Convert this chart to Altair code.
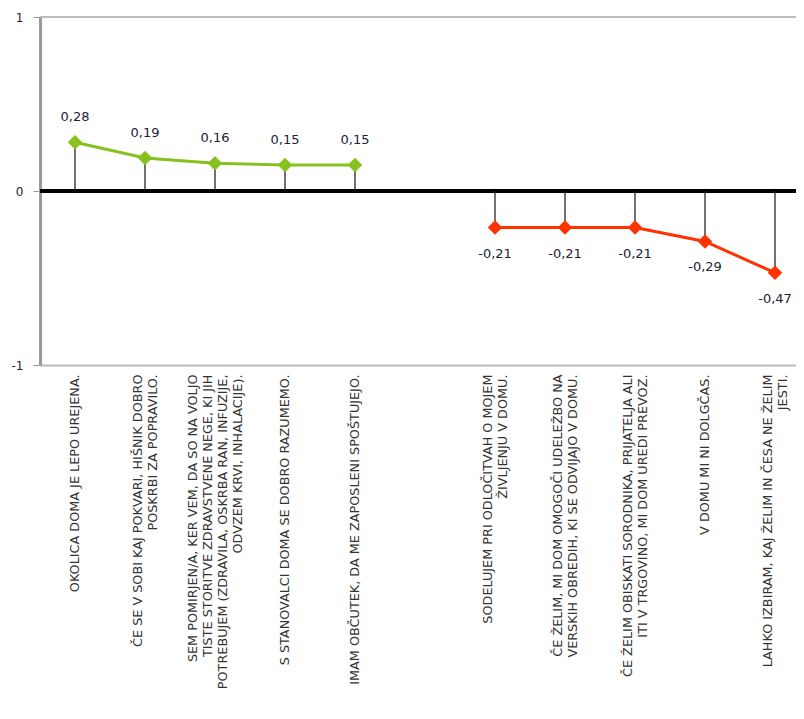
import altair as alt
import pandas as pd

categories = [
    "OKOLICA DOMA JE LEPO UREJENA.",
    "ČE SE V SOBI KAJ POKVARI, HIŠNIK DOBRO|POSKRBI ZA POPRAVILO.",
    "SEM POMIRJEN/A, KER VEM, DA SO NA VOLJO|TISTE STORITVE ZDRAVSTVENE NEGE, KI JIH|POTREBUJEM (ZDRAVILA, OSKRBA RAN, INFUZIJE,|ODVZEM KRVI, INHALACIJE).",
    "S STANOVALCI DOMA SE DOBRO RAZUMEMO.",
    "IMAM OBČUTEK, DA ME ZAPOSLENI SPOŠTUJEJO.",
    " ",
    "SODELUJEM PRI ODLOČITVAH O MOJEM|ŽIVLJENJU V DOMU.",
    "ČE ŽELIM, MI DOM OMOGOČI UDELEŽBO NA|VERSKIH OBREDIH, KI SE ODVIJAJO V DOMU.",
    "ČE ŽELIM OBISKATI SORODNIKA, PRIJATELJA ALI|ITI V TRGOVINO, MI DOM UREDI PREVOZ.",
    "V DOMU MI NI DOLGČAS.",
    "LAHKO IZBIRAM, KAJ ŽELIM IN ČESA NE ŽELIM|JESTI.",
]
pos_cats = categories[:5]
pos_vals = [0.28, 0.19, 0.16, 0.15, 0.15]
neg_cats = categories[6:]
neg_vals = [-0.21, -0.21, -0.21, -0.29, -0.47]

df = pd.DataFrame({
    "cat": pos_cats + neg_cats,
    "value": pos_vals + neg_vals,
    "group": ["pos"] * 5 + ["neg"] * 5,
})

FONT = "DejaVu Sans"
LH = 15
xscale = alt.Scale(domain=categories, range=[0, 770])
yscale = alt.Scale(domain=[-1, 1])

nlines = "length(split(datum.value, '|'))"
label_offset = {
    "condition": [
        {"test": f"{nlines} == 2", "value": -LH / 2},
        {"test": f"{nlines} == 3", "value": -LH},
        {"test": f"{nlines} == 4", "value": -1.5 * LH},
    ],
    "value": 0,
}

x_enc = alt.X("cat:N", scale=xscale, sort=categories, title=None,
              axis=alt.Axis(labelAngle=270, labelPadding=9, ticks=False,
                            labelAlign="right", labelBaseline="middle",
                            labelOffset=label_offset,
                            domainColor="#bbbbbb", domainWidth=2,
                            labelLimit=400, labelFontSize=12.8, labelFont=FONT,
                            labelColor="#333333", labelLineHeight=LH,
                            labelExpr="split(datum.label, '|')"))
y_enc = alt.Y("value:Q", scale=yscale, title=None,
              axis=alt.Axis(values=[-1, 0, 1], grid=False, domainColor="#999999",
                            domainWidth=3, tickColor="#999999", tickSize=7,
                            labelPadding=10, labelFontSize=12, labelFont=FONT,
                            labelColor="#222233",
                            labelExpr="datum.value < 0 ? '-' + abs(datum.value) : '' + datum.value"))

base = alt.Chart(df)

top_border = base.mark_rule(color="#bbbbbb", strokeWidth=2).encode(y=alt.datum(1, scale=yscale))
zero_line = base.mark_rule(color="black", strokeWidth=4).encode(y=alt.datum(0, scale=yscale))

color_scale = alt.Scale(domain=["pos", "neg"], range=["#86c11e", "#ff3300"])

lines = base.mark_line(strokeWidth=3).encode(
    x=x_enc, y=y_enc,
    color=alt.Color("group:N", scale=color_scale, legend=None),
    detail="group:N",
)
points = base.mark_point(shape="diamond", filled=True, size=210, opacity=1).encode(
    x=x_enc, y=y_enc,
    color=alt.Color("group:N", scale=color_scale, legend=None),
)
stems = base.mark_rule(color="#222222", strokeWidth=1.5, opacity=0.85).encode(
    x=x_enc, y=y_enc, y2=alt.datum(0),
)
lbl_expr = "(datum.value < 0 ? '-' : '') + replace(format(abs(datum.value), '.2f'), '.', ',')"
labels_pos = base.transform_filter("datum.value > 0").transform_calculate(
    lbl=lbl_expr
).mark_text(dy=-25, fontSize=13, font=FONT, color="#222233").encode(
    x=x_enc, y=y_enc, text="lbl:N")
labels_neg = base.transform_filter("datum.value < 0").transform_calculate(
    lbl=lbl_expr
).mark_text(dy=26, fontSize=13, font=FONT, color="#222233").encode(
    x=x_enc, y=y_enc, text="lbl:N")

chart = alt.layer(
    top_border, zero_line, stems, lines, points, labels_pos, labels_neg
).properties(
    width=756, height=348,
    autosize=alt.AutoSizeParams(type="none"),
    padding={"left": 32, "top": 9, "right": 0, "bottom": 340},
).configure_view(stroke=None).configure(background="white")

chart.save("out.html", embed_options={"renderer": "svg", "actions": False})
